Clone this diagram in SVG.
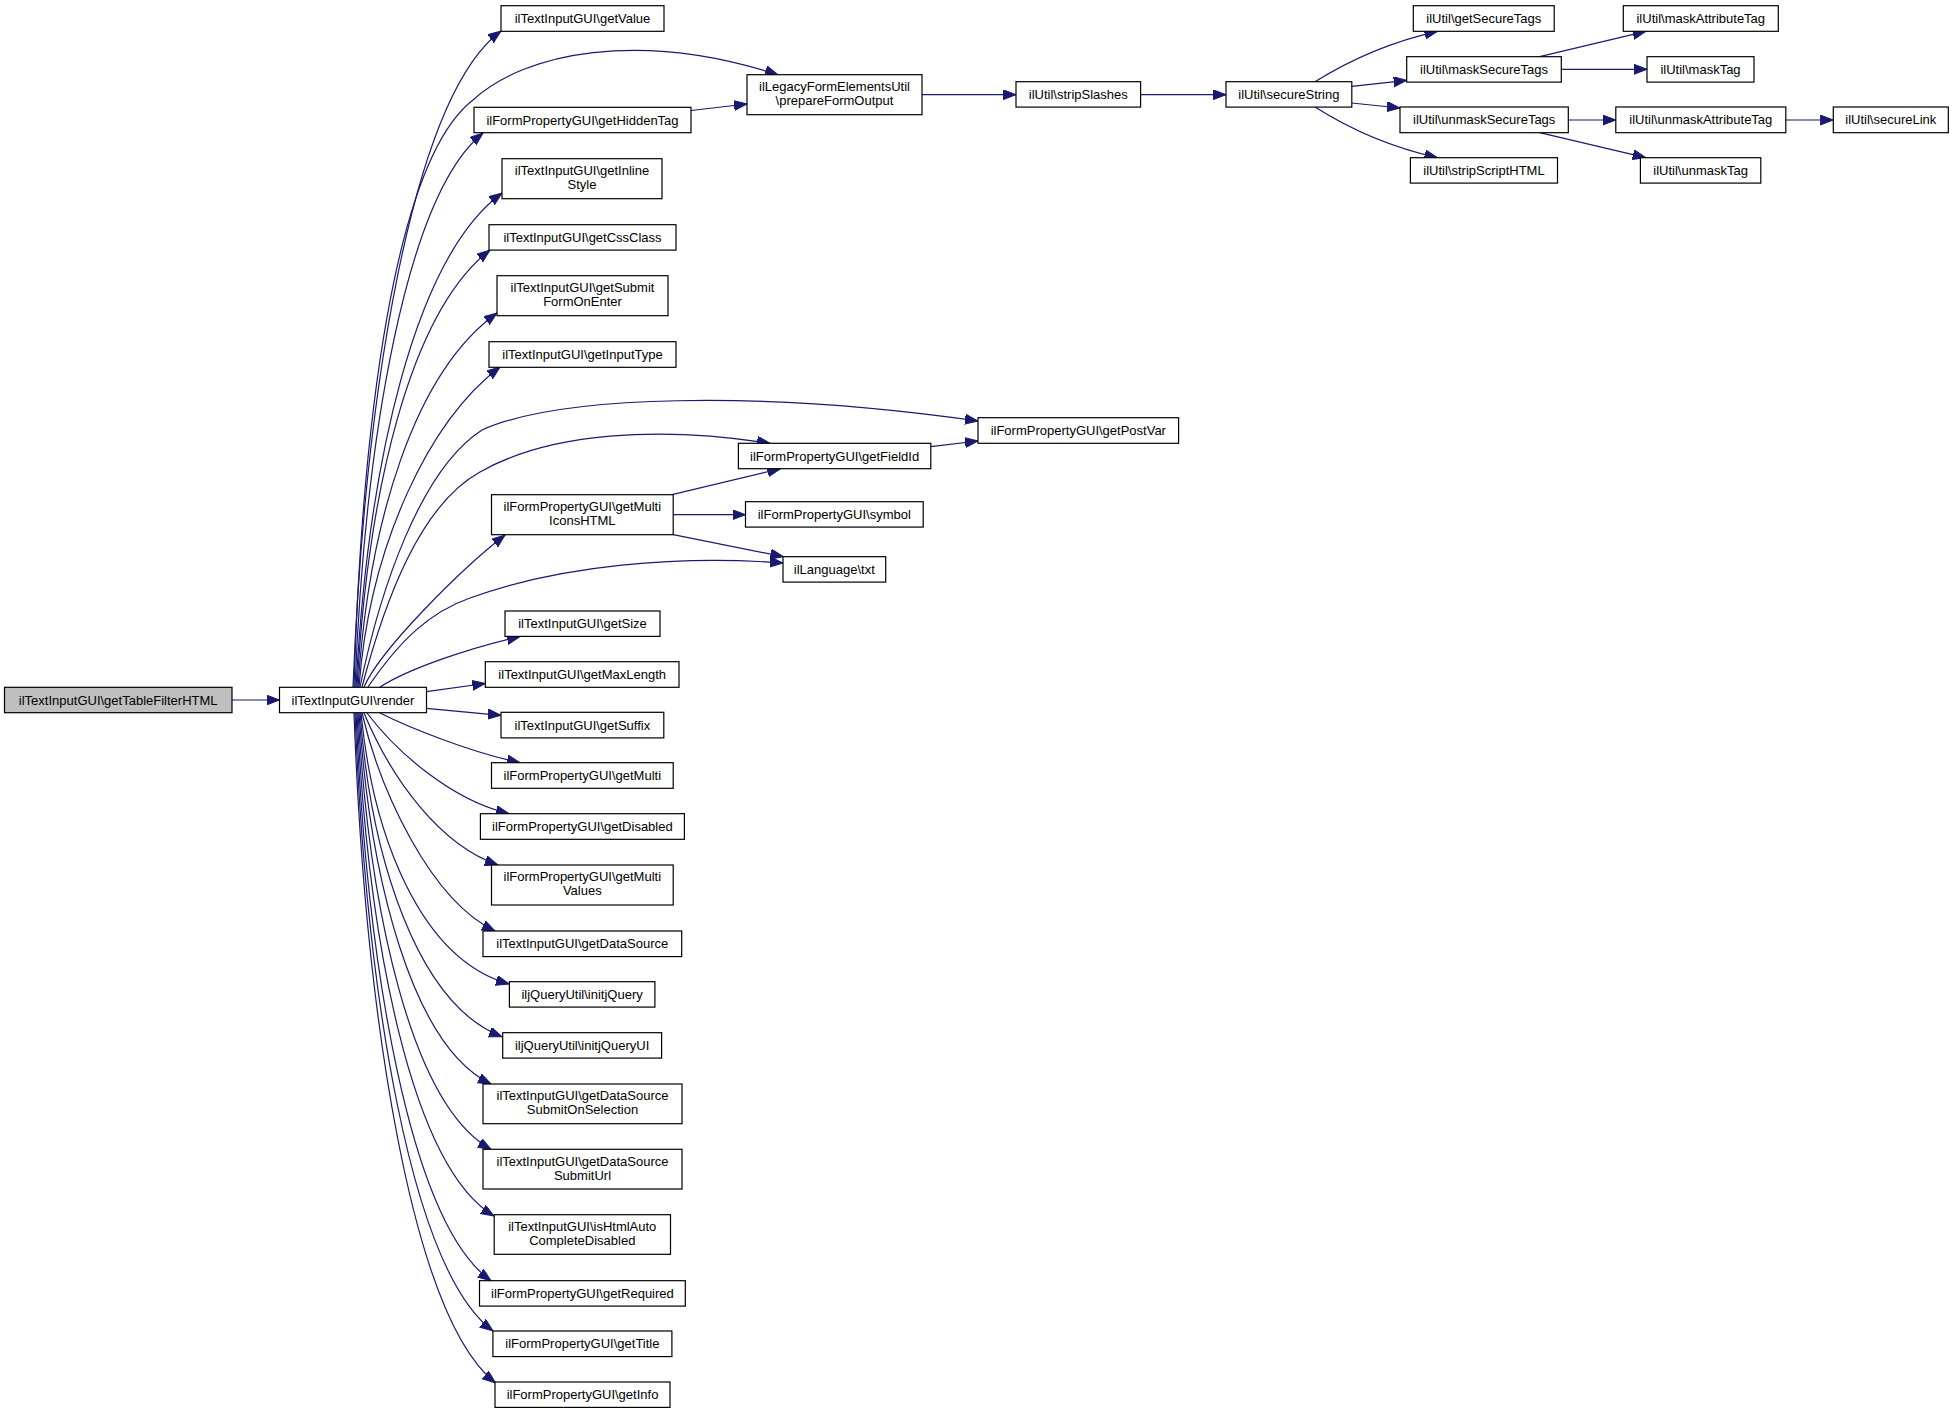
<svg xmlns="http://www.w3.org/2000/svg" width="1953" height="1413" viewBox="0 0 1953 1413">
<style>
.node rect{fill:#ffffff;stroke:#000000;stroke-width:1.2}
.node.root rect{fill:#bfbfbf}
.node text{font-family:"Liberation Sans",Arial,Helvetica,sans-serif;font-size:13px;text-anchor:middle;fill:#000000}
.edges path{fill:none;stroke:#191970;stroke-width:1.2;marker-end:url(#ah)}
</style>
<defs>
<marker id="ah" markerWidth="14" markerHeight="11" refX="13" refY="5" orient="auto" markerUnits="userSpaceOnUse">
<path d="M0,0 L13,5 L0,10 z" fill="#191970" stroke="#191970" stroke-width="1"/>
</marker>
</defs>
<rect x="0" y="0" width="1953" height="1413" fill="#ffffff"/>
<g class="edges" id="edges">
<path d="M232,700 L279.5,700"/>
<path d="M353,687 C365,392 412,97 501,31"/>
<path d="M354,687 C362,420 395,160 473,100 C525,52 640,30 778,74.7"/>
<path d="M355,687 C365,438 406,195 483,133"/>
<path d="M356,687 C368,465 414,258 502,193"/>
<path d="M357,687 C368,490 410,312 490,250"/>
<path d="M358,687 C369,519 415,372 497,313"/>
<path d="M359,687 C370,543 430,420 500,367"/>
<path d="M360,687 C380,590 420,470 482,430 C560,395 760,390 978,421"/>
<path d="M362,687 C385,600 420,505 480,472 C550,432 660,426 770,443.3"/>
<path d="M364,687 C380,650 460,570 505,535"/>
<path d="M368,687 C400,640 430,612 470,598 C560,565 680,555 783,563"/>
<path d="M380,687 C410,668 470,648 520,636.5"/>
<path d="M426.3,691.7 L485.3,683.5"/>
<path d="M426.3,708.3 L501,715.3"/>
<path d="M380,713 C410,728 470,752 520,762.7"/>
<path d="M367,713 C395,750 450,800 509,813.7"/>
<path d="M364,713 C392,780 440,845 498,865"/>
<path d="M362,713 C380,790 430,900 495,931"/>
<path d="M361,713 C373,836 420,959 509,984"/>
<path d="M360,713 C371,858 417,1004 502,1036.7"/>
<path d="M359,713 C370,879 412,1046 491,1084"/>
<path d="M358,713 C369,909 411,1105 491,1149.3"/>
<path d="M357,713 C368,940 411,1166 494,1216"/>
<path d="M356,713 C367,968 410,1223 491,1280.7"/>
<path d="M355,713 C366,991 410,1269 493,1331"/>
<path d="M354,713 C365,1014 411,1316 495.5,1383"/>
<path d="M691,110.5 L747,104"/>
<path d="M922,94.7 L1016,94.7"/>
<path d="M1140.6,94.7 L1226,94.7"/>
<path d="M1315,81.7 C1345,63 1385,43 1437.5,31.3"/>
<path d="M1351.7,86.3 L1406.7,80.3"/>
<path d="M1351.7,103 L1400,108"/>
<path d="M1315,107 C1345,126 1385,146 1437.5,157.7"/>
<path d="M1539.6,56.7 L1645.8,31.3"/>
<path d="M1561.3,69.3 L1647,69.3"/>
<path d="M1568.3,120 L1615.8,120"/>
<path d="M1785.8,120 L1833.3,120"/>
<path d="M1539.6,132.7 L1645.8,157.7"/>
<path d="M672,494.7 L780.4,468.7"/>
<path d="M673.2,514.7 L745.5,514.7"/>
<path d="M673.2,534.7 L783.5,556.7"/>
<path d="M930.8,446.7 L978,441"/>
</g>
<g id="n_getTableFilterHTML" class="node root"><rect x="4.5" y="687.3" width="227.5" height="25.4"/><text x="118.2" y="704.6">ilTextInputGUI\getTableFilterHTML</text></g>
<g id="n_render" class="node"><rect x="279.5" y="687.3" width="147" height="25.4"/><text x="353" y="704.6">ilTextInputGUI\render</text></g>
<g id="n_getValue" class="node"><rect x="501" y="5.7" width="163" height="25.6"/><text x="582.5" y="23">ilTextInputGUI\getValue</text></g>
<g id="n_prepareFormOutput" class="node"><rect x="747" y="74.7" width="175" height="40"/><text x="834.5" y="91">ilLegacyFormElementsUtil</text><text x="834.5" y="105">\prepareFormOutput</text></g>
<g id="n_getHiddenTag" class="node"><rect x="474" y="107.3" width="217" height="25.4"/><text x="582.5" y="124.6">ilFormPropertyGUI\getHiddenTag</text></g>
<g id="n_getInlineStyle" class="node"><rect x="502" y="158.7" width="160" height="40"/><text x="582" y="175">ilTextInputGUI\getInline</text><text x="582" y="189">Style</text></g>
<g id="n_getCssClass" class="node"><rect x="489" y="224.7" width="187" height="25.4"/><text x="582.5" y="242">ilTextInputGUI\getCssClass</text></g>
<g id="n_getSubmitFormOnEnter" class="node"><rect x="497" y="275.7" width="171" height="40"/><text x="582.5" y="292">ilTextInputGUI\getSubmit</text><text x="582.5" y="306">FormOnEnter</text></g>
<g id="n_getInputType" class="node"><rect x="489" y="341.7" width="187" height="25.6"/><text x="582.5" y="359">ilTextInputGUI\getInputType</text></g>
<g id="n_getPostVar" class="node"><rect x="978" y="417.7" width="200.6" height="25.6"/><text x="1078.3" y="435">ilFormPropertyGUI\getPostVar</text></g>
<g id="n_getFieldId" class="node"><rect x="738.4" y="443.3" width="192.4" height="25.4"/><text x="834.6" y="460.6">ilFormPropertyGUI\getFieldId</text></g>
<g id="n_getMultiIconsHTML" class="node"><rect x="491.5" y="494.7" width="181.7" height="40"/><text x="582.3" y="511">ilFormPropertyGUI\getMulti</text><text x="582.3" y="525">IconsHTML</text></g>
<g id="n_symbol" class="node"><rect x="745.5" y="501.7" width="177.7" height="25.4"/><text x="834.3" y="519">ilFormPropertyGUI\symbol</text></g>
<g id="n_txt" class="node"><rect x="783" y="556.7" width="102.7" height="25.4"/><text x="834.3" y="574">ilLanguage\txt</text></g>
<g id="n_getSize" class="node"><rect x="505" y="611" width="155" height="25.4"/><text x="582.5" y="628.3">ilTextInputGUI\getSize</text></g>
<g id="n_getMaxLength" class="node"><rect x="485.3" y="661.7" width="193.7" height="25.6"/><text x="582.2" y="679">ilTextInputGUI\getMaxLength</text></g>
<g id="n_getSuffix" class="node"><rect x="501" y="712.3" width="162.8" height="25.6"/><text x="582.4" y="729.6">ilTextInputGUI\getSuffix</text></g>
<g id="n_getMulti" class="node"><rect x="491.5" y="762.7" width="181.7" height="25.6"/><text x="582.3" y="780">ilFormPropertyGUI\getMulti</text></g>
<g id="n_getDisabled" class="node"><rect x="480.4" y="813.7" width="204" height="25.6"/><text x="582.4" y="831">ilFormPropertyGUI\getDisabled</text></g>
<g id="n_getMultiValues" class="node"><rect x="491.5" y="865" width="181.7" height="40"/><text x="582.3" y="881.3">ilFormPropertyGUI\getMulti</text><text x="582.3" y="895.3">Values</text></g>
<g id="n_getDataSource" class="node"><rect x="483" y="931" width="198.7" height="25.6"/><text x="582.3" y="948.3">ilTextInputGUI\getDataSource</text></g>
<g id="n_initjQuery" class="node"><rect x="509.4" y="981.7" width="145.5" height="25.4"/><text x="582.1" y="999">iljQueryUtil\initjQuery</text></g>
<g id="n_initjQueryUI" class="node"><rect x="502.7" y="1032.7" width="158.9" height="25.4"/><text x="582.1" y="1050">iljQueryUtil\initjQueryUI</text></g>
<g id="n_getDataSourceSubmitOnSelection" class="node"><rect x="483" y="1084" width="199" height="39.7"/><text x="582.5" y="1100.3">ilTextInputGUI\getDataSource</text><text x="582.5" y="1114.3">SubmitOnSelection</text></g>
<g id="n_getDataSourceSubmitUrl" class="node"><rect x="483" y="1149.3" width="199" height="39.7"/><text x="582.5" y="1165.6">ilTextInputGUI\getDataSource</text><text x="582.5" y="1179.6">SubmitUrl</text></g>
<g id="n_isHtmlAutoCompleteDisabled" class="node"><rect x="494.2" y="1214.7" width="176.3" height="39.6"/><text x="582.3" y="1231">ilTextInputGUI\isHtmlAuto</text><text x="582.3" y="1245">CompleteDisabled</text></g>
<g id="n_getRequired" class="node"><rect x="479.5" y="1280.7" width="205.8" height="25.4"/><text x="582.4" y="1298">ilFormPropertyGUI\getRequired</text></g>
<g id="n_getTitle" class="node"><rect x="492.9" y="1331" width="179" height="25.6"/><text x="582.4" y="1348.3">ilFormPropertyGUI\getTitle</text></g>
<g id="n_getInfo" class="node"><rect x="495" y="1382" width="175" height="25.4"/><text x="582.5" y="1399.3">ilFormPropertyGUI\getInfo</text></g>
<g id="n_stripSlashes" class="node"><rect x="1016" y="81.7" width="124.6" height="25.4"/><text x="1078.3" y="99">ilUtil\stripSlashes</text></g>
<g id="n_secureString" class="node"><rect x="1226" y="81.7" width="125.8" height="25.4"/><text x="1288.9" y="99">ilUtil\secureString</text></g>
<g id="n_getSecureTags" class="node"><rect x="1413.3" y="5.7" width="140.9" height="25.6"/><text x="1483.8" y="23">ilUtil\getSecureTags</text></g>
<g id="n_maskSecureTags" class="node"><rect x="1406.7" y="56.7" width="154.6" height="25.4"/><text x="1484" y="74">ilUtil\maskSecureTags</text></g>
<g id="n_unmaskSecureTags" class="node"><rect x="1400" y="107" width="168.3" height="25.7"/><text x="1484.2" y="124.4">ilUtil\unmaskSecureTags</text></g>
<g id="n_stripScriptHTML" class="node"><rect x="1410.4" y="157.7" width="147.1" height="25.4"/><text x="1484" y="175">ilUtil\stripScriptHTML</text></g>
<g id="n_maskAttributeTag" class="node"><rect x="1623.3" y="5.7" width="155" height="25.6"/><text x="1700.8" y="23">ilUtil\maskAttributeTag</text></g>
<g id="n_maskTag" class="node"><rect x="1647" y="56.7" width="107" height="25.4"/><text x="1700.5" y="74">ilUtil\maskTag</text></g>
<g id="n_unmaskAttributeTag" class="node"><rect x="1615.8" y="107" width="170" height="25.7"/><text x="1700.8" y="124.4">ilUtil\unmaskAttributeTag</text></g>
<g id="n_unmaskTag" class="node"><rect x="1640.4" y="157.7" width="120.4" height="25.4"/><text x="1700.6" y="175">ilUtil\unmaskTag</text></g>
<g id="n_secureLink" class="node"><rect x="1833.3" y="107" width="115" height="25.7"/><text x="1890.8" y="124.4">ilUtil\secureLink</text></g>
</svg>
